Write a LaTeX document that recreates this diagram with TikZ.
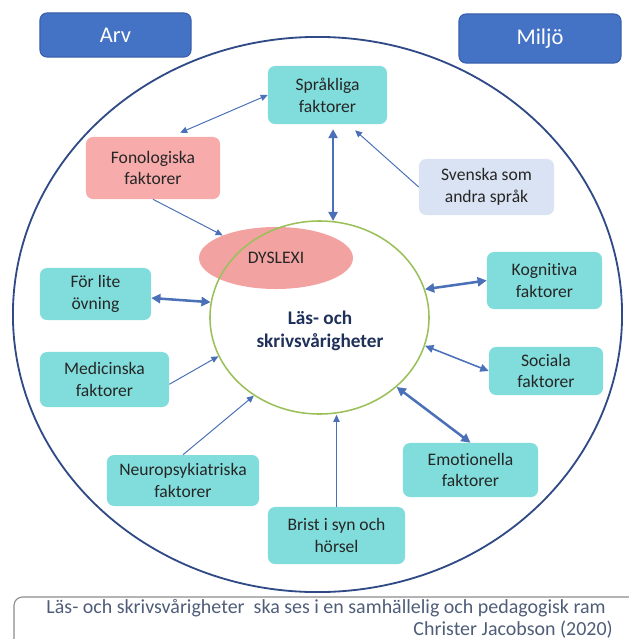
\documentclass[tikz,border=0pt]{standalone}
\usepackage{fontspec}
\setmainfont{Carlito}[Ligatures=NoCommon]
\usepackage{xcolor}
\usetikzlibrary{positioning, shapes.geometric, arrows.meta, calc}

\definecolor{arvblue}{HTML}{4472C4}
\definecolor{arvedge}{HTML}{3A62AC}
\definecolor{ramblue}{HTML}{2F4A86}
\definecolor{faktcyan}{HTML}{80DDDB}
\definecolor{fonpink}{HTML}{F7ABAB}
\definecolor{dyspink}{HTML}{F3A2A2}
\definecolor{svlav}{HTML}{DAE3F3}
\definecolor{lesgreen}{HTML}{9BC05A}
\definecolor{lesnavy}{HTML}{1F3059}
\definecolor{pilblue}{HTML}{4A70B8}
\definecolor{fotgray}{HTML}{4F5D78}
\definecolor{fotedge}{HTML}{8C8C8C}

\begin{document}
\begin{tikzpicture}[
  x=0.025cm, y=-0.025cm,
  faktor/.style={rounded corners=5pt, fill=faktcyan, align=center, inner sep=0pt, font=\fontsize{12.5}{15.5}\selectfont, text=black!85},
  huvud/.style={rounded corners=5pt, fill=arvblue, draw=arvedge, line width=0.8pt, text=white, font=\fontsize{16}{19}\selectfont},
  tunnpil/.style={pilblue, line width=0.7pt, >={Triangle[length=5pt,width=4.5pt]}},
  mellanpil/.style={pilblue, line width=1.1pt, >={Triangle[length=6pt,width=5.5pt]}},
  tjockpil/.style={pilblue, line width=1.8pt, >={Triangle[length=6.5pt,width=6.5pt]}}
]
\useasboundingbox (0,0) rectangle (629,639);
\clip (0,0) rectangle (629,639);

% Outer frame and headings
\node[ellipse, draw=ramblue, line width=1.3pt, minimum width=15.225cm, minimum height=13.875cm, inner sep=0pt] (ram) at (317.5,314.5) {};
\node[huvud, minimum width=3.775cm, minimum height=1.1cm] (arv) at (115.5,35) {Arv};
\node[huvud, minimum width=4.05cm, minimum height=1.225cm] (miljo) at (540,38.5) {Miljö};

% Centre
\node[ellipse, fill=dyspink, minimum width=3.85cm, minimum height=1.55cm, inner sep=0pt, font=\fontsize{12.5}{15}\selectfont, text=black!85] (dys) at (276,258) {DYSLEXI};
\node[ellipse, draw=lesgreen, line width=1.1pt, minimum width=5.475cm, minimum height=4.825cm, inner sep=0pt] (les) at (319.5,317.5) {};
\node[align=center, text=lesnavy, font=\fontsize{13.7}{16.6}\selectfont\bfseries] (lestext) at (320,331) {Läs- och\\skrivsvårigheter};

% Factors
\node[faktor, minimum width=2.975cm, minimum height=1.45cm] (sprak) at (327.5,95) {Språkliga\\faktorer};
\node[faktor, fill=fonpink, minimum width=3.35cm, minimum height=1.55cm] (fon) at (153,168) {Fonologiska\\faktorer};
\node[faktor, fill=svlav, minimum width=3.375cm, minimum height=1.4cm] (svenska) at (486.5,187) {Svenska som\\andra språk};
\node[faktor, minimum width=2.775cm, minimum height=1.3cm] (ovning) at (95.5,294) {För lite\\övning};
\node[faktor, minimum width=3.225cm, minimum height=1.375cm] (medicin) at (104.5,379.5) {Medicinska\\faktorer};
\node[faktor, minimum width=3.8cm, minimum height=1.275cm] (neuro) at (183,480.5) {Neuropsykiatriska\\faktorer};
\node[faktor, minimum width=3.425cm, minimum height=1.425cm] (brist) at (336.5,535.5) {Brist i syn och\\hörsel};
\node[faktor, minimum width=3.375cm, minimum height=1.35cm] (emotion) at (470.5,470) {Emotionella\\faktorer};
\node[faktor, minimum width=2.875cm, minimum height=1.425cm] (kognitiv) at (544.5,280.5) {Kognitiva\\faktorer};
\node[faktor, minimum width=2.85cm, minimum height=1.2cm] (social) at (546,371) {Sociala\\faktorer};

% Arrows
\coordinate (sprakfot) at (les.82 |- sprak.south);
\draw[tjockpil, <->] ([yshift=-0.12cm]sprakfot) -- (les.82);
\draw[tunnpil, <->] (sprak.west) -- ([xshift=0.68cm, yshift=0.1cm]fon.north);
\draw[tunnpil, ->] (svenska.west) -- ([xshift=0.69cm, yshift=-0.15cm]sprak.south);
\draw[tunnpil, ->] (fon.south) -- (dys.157);
\draw[tjockpil, <->] ([yshift=-0.1cm]ovning.east) -- (les.172);
\draw[tunnpil, ->] ([yshift=-0.12cm]medicin.east) -- (les.201);
\draw[tunnpil, ->] (neuro.north) -- (les.230);
\draw[tunnpil, ->] (brist.north) -- (brist.north |- les.south);
\draw[tjockpil, <->] (emotion.north) -- (les.318);
\draw[mellanpil, <->] (social.west) -- (les.345);
\draw[tjockpil, <->] (kognitiv.west) -- (les.15);

% Footer
\draw[draw=fotedge, line width=0.8pt, rounded corners=6pt] (14,597) rectangle (680,700);
\node[anchor=north east, align=right, inner sep=0pt, text=fotgray, font=\fontsize{14.2}{15.4}\selectfont] (fot) at (613,599) {Läs- och skrivsvårigheter\ \ ska ses i en samhällelig och pedagogisk ram\hspace*{5pt}\\Christer Jacobson (2020)};
\end{tikzpicture}
\end{document}
